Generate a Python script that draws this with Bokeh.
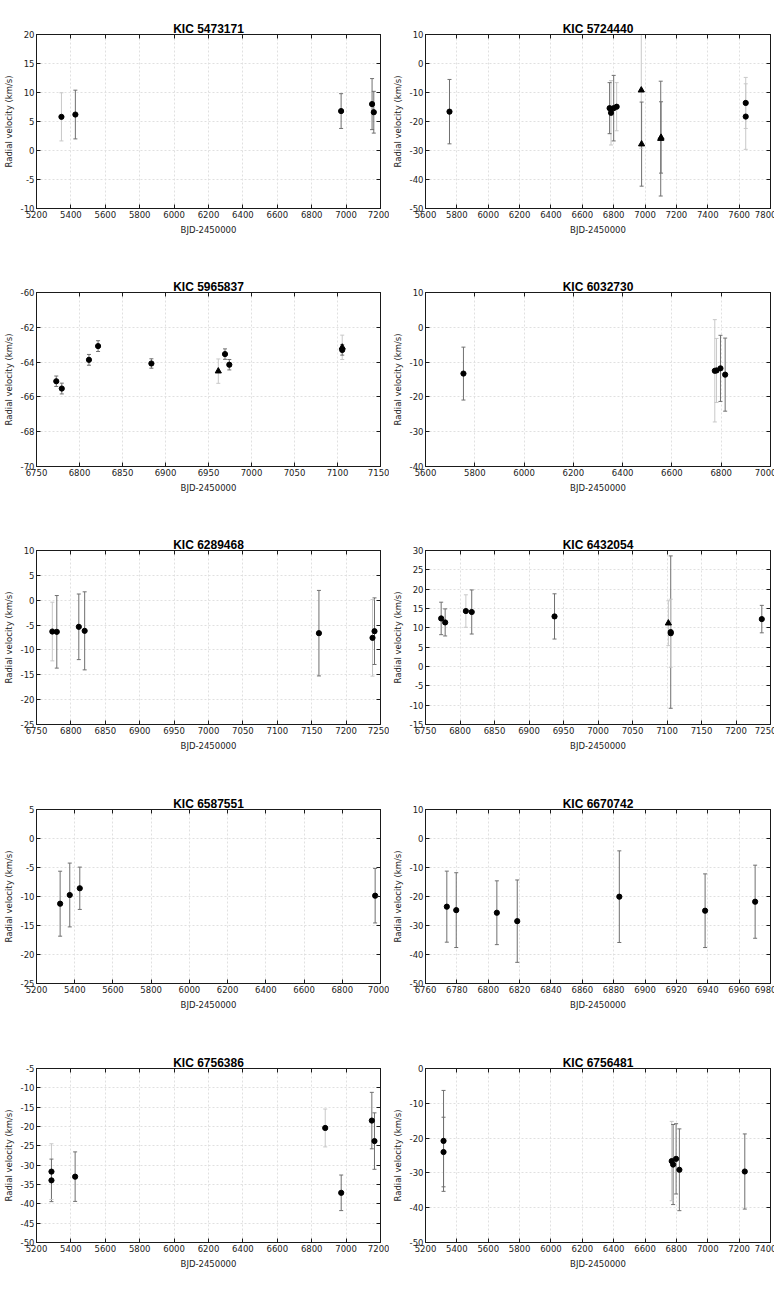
import numpy as np
from bokeh.plotting import figure
from bokeh.layouts import gridplot
from bokeh.models import (ColumnDataSource, Range1d, SingleIntervalTicker,
                          LinearAxis, CustomJSTickFormatter)
from bokeh.embed import file_html
from bokeh.resources import INLINE

# ---------------- data ----------------
names = ["KIC 5473171", "KIC 5724440", "KIC 5965837", "KIC 6032730", "KIC 6289468",
         "KIC 6432054", "KIC 6587551", "KIC 6670742", "KIC 6756386", "KIC 6756481"]

kic5473171_bjd = [5345, 5426, 6971, 7151, 7161]
kic5473171_rv = [5.8, 6.2, 6.8, 8.0, 6.6]
kic5473171_err = [4.15, 4.2, 3.0, 4.4, 3.6]
kic5473171_mark = ["o", "o", "o", "o", "o"]
kic5473171_set = ["L", "D", "D", "D", "D"]

kic5724440_bjd = [5753, 6774, 6783, 6800, 6819, 6976, 6978, 7100, 7102, 7642, 7642]
kic5724440_rv = [-16.6, -15.4, -17.0, -15.4, -14.9, -9.2, -27.8, -25.9, -25.5, -13.6, -18.3]
kic5724440_err = [11.1, 8.8, 11.1, 11.3, 8.3, 20.0, 14.5, 19.8, 12.3, 8.8, 11.3]
kic5724440_mark = ["o", "o", "o", "o", "o", "^", "^", "^", "^", "o", "o"]
kic5724440_set = ["D", "D", "L", "D", "L", "L", "D", "D", "D", "L", "L"]

kic5965837_bjd = [6773, 6779.4, 6811, 6821.6, 6883.6, 6961.4, 6969.2, 6974.2, 7105.5, 7105.5]
kic5965837_rv = [-65.1, -65.52, -63.87, -63.08, -64.08, -64.52, -63.54, -64.15, -63.15, -63.3]
kic5965837_err = [0.3, 0.31, 0.31, 0.31, 0.27, 0.7, 0.3, 0.3, 0.7, 0.3]
kic5965837_mark = ["o", "o", "o", "o", "o", "^", "o", "o", "^", "o"]
kic5965837_set = ["D", "D", "D", "D", "D", "L", "D", "D", "L", "D"]

kic6032730_bjd = [5754, 6774, 6781, 6797, 6816]
kic6032730_rv = [-13.3, -12.5, -12.4, -11.8, -13.6]
kic6032730_err = [7.6, 14.7, 9.2, 9.5, 10.5]
kic6032730_mark = ["o", "o", "o", "o", "o"]
kic6032730_set = ["D", "L", "L", "D", "D"]

kic6289468_bjd = [6773, 6779.5, 6811.5, 6820, 7160.5, 7238.4, 7241.3]
kic6289468_rv = [-6.3, -6.36, -5.35, -6.16, -6.63, -7.57, -6.23]
kic6289468_err = [5.9, 7.3, 6.6, 7.85, 8.6, 7.7, 6.7]
kic6289468_mark = ["o", "o", "o", "o", "o", "o", "o"]
kic6289468_set = ["L", "D", "D", "D", "D", "L", "D"]

kic6432054_bjd = [6772.7, 6778.5, 6808.5, 6817, 6937, 7102, 7105.4, 7105.4, 7237.4]
kic6432054_rv = [12.43, 11.4, 14.34, 14.1, 12.95, 11.2, 8.9, 8.6, 12.26]
kic6432054_err = [4.2, 3.5, 4.2, 5.7, 5.85, 5.8, 19.7, 8.8, 3.55]
kic6432054_mark = ["o", "o", "o", "o", "o", "^", "o", "o", "o"]
kic6432054_set = ["D", "D", "L", "D", "D", "L", "D", "L", "D"]

kic6587551_bjd = [5323.7, 5374, 5426.5, 6972]
kic6587551_rv = [-11.24, -9.74, -8.58, -9.86]
kic6587551_err = [5.6, 5.5, 3.65, 4.7]
kic6587551_mark = ["o", "o", "o", "o"]
kic6587551_set = ["D", "D", "D", "D"]

kic6670742_bjd = [6773.6, 6779.6, 6805.5, 6818.5, 6883.6, 6938.3, 6970.2]
kic6670742_rv = [-23.5, -24.7, -25.6, -28.5, -20.06, -24.9, -21.8]
kic6670742_err = [12.25, 12.9, 11.0, 14.2, 15.8, 12.7, 12.6]
kic6670742_mark = ["o", "o", "o", "o", "o", "o", "o"]
kic6670742_set = ["D", "D", "D", "D", "D", "D", "D"]

kic6756386_bjd = [5287, 5287, 5424.6, 6878.6, 6971.5, 7149.6, 7165]
kic6756386_rv = [-31.67, -33.93, -32.97, -20.38, -37.15, -18.47, -23.77]
kic6756386_err = [7.2, 5.5, 6.4, 4.9, 4.6, 7.3, 7.3]
kic6756386_mark = ["o", "o", "o", "o", "o", "o", "o"]
kic6756386_set = ["L", "D", "D", "L", "D", "D", "D"]

kic6756481_bjd = [5315, 5315, 6770, 6779, 6798, 6819, 7236]
kic6756481_rv = [-20.8, -24.0, -26.6, -27.6, -25.96, -29.1, -29.6]
kic6756481_err = [14.5, 10.0, 11.4, 11.5, 10.1, 11.75, 10.8]
kic6756481_mark = ["o", "o", "o", "o", "o", "o", "o"]
kic6756481_set = ["D", "D", "L", "D", "D", "D", "D"]

x_limits = [(5200, 7200), (5600, 7800), (6750, 7150), (5600, 7000), (6750, 7250),
            (6750, 7250), (5200, 7000), (6760, 6980), (5200, 7200), (5200, 7400)]
x_steps = [200, 200, 50, 200, 50, 50, 200, 20, 200, 200]
y_limits = [(-10, 20), (-50, 10), (-70, -60), (-40, 10), (-25, 10),
            (-15, 30), (-25, 5), (-50, 10), (-50, -5), (-50, 0)]
y_steps = [5, 10, 2, 10, 5, 5, 5, 10, 5, 10]

x_label = "BJD-2450000"
y_label = "Radial velocity (km/s)"

stars = [
    (kic5473171_bjd, kic5473171_rv, kic5473171_err, kic5473171_mark, kic5473171_set),
    (kic5724440_bjd, kic5724440_rv, kic5724440_err, kic5724440_mark, kic5724440_set),
    (kic5965837_bjd, kic5965837_rv, kic5965837_err, kic5965837_mark, kic5965837_set),
    (kic6032730_bjd, kic6032730_rv, kic6032730_err, kic6032730_mark, kic6032730_set),
    (kic6289468_bjd, kic6289468_rv, kic6289468_err, kic6289468_mark, kic6289468_set),
    (kic6432054_bjd, kic6432054_rv, kic6432054_err, kic6432054_mark, kic6432054_set),
    (kic6587551_bjd, kic6587551_rv, kic6587551_err, kic6587551_mark, kic6587551_set),
    (kic6670742_bjd, kic6670742_rv, kic6670742_err, kic6670742_mark, kic6670742_set),
    (kic6756386_bjd, kic6756386_rv, kic6756386_err, kic6756386_mark, kic6756386_set),
    (kic6756481_bjd, kic6756481_rv, kic6756481_err, kic6756481_mark, kic6756481_set),
]

# ---------------- styling ----------------
SET_COLOR = {"L": "#c8c8c8", "D": "#707070"}
MARKER = {"o": "circle", "^": "triangle"}
MARKER_SIZE = {"o": 5.2, "^": 6.2}
FONT = "DejaVu Sans"
ROW_HEIGHTS = [258, 258, 259, 259, 248]


def style_axis(ax, label_standoff=3, hidden=False):
    ax.major_tick_in = 4
    ax.major_tick_out = 0
    ax.minor_tick_in = 0
    ax.minor_tick_out = 0
    ax.minor_tick_line_color = None
    ax.axis_line_color = "#1a1a1a"
    ax.major_tick_line_color = "#1a1a1a"
    if hidden:
        ax.formatter = CustomJSTickFormatter(code="return ''")
        ax.major_label_text_font_size = "0px"
        ax.major_label_standoff = 0
        ax.axis_label = None
    else:
        ax.formatter = CustomJSTickFormatter(code="return tick.toFixed(0)")
        ax.major_label_text_font = FONT
        ax.major_label_text_font_size = "8.5px"
        ax.major_label_text_color = "#222222"
        ax.major_label_standoff = 2
        ax.axis_label_text_font = FONT
        ax.axis_label_text_font_size = "8.5px"
        ax.axis_label_text_font_style = "normal"
        ax.axis_label_text_color = "#222222"
        ax.axis_label_standoff = label_standoff


def make_panel(i):
    t, rv, err, mark, sets = stars[i]
    col = i % 2
    row = i // 2
    t = np.asarray(t, float)
    rv = np.asarray(rv, float)
    err = np.asarray(err, float)
    p = figure(
        frame_width=344 if col == 0 else 345, frame_height=174,
        x_range=Range1d(*x_limits[i]), y_range=Range1d(*y_limits[i]),
        output_backend="svg", toolbar_location=None, tools="",
        min_border_left=34,
        min_border_right=9 if col == 0 else 6,
        min_border_top=34, min_border_bottom=ROW_HEIGHTS[row] - 34 - 174,
        title=names[i], background_fill_color="white",
        border_fill_color="white",
    )
    p.title.align = "center"
    p.title.text_font = "Liberation Sans"
    p.title.text_font_style = "bold"
    p.title.text_font_size = "12px"
    p.title.text_color = "black"
    p.title.standoff = -2
    p.outline_line_color = "#1a1a1a"

    xt = SingleIntervalTicker(interval=x_steps[i], num_minor_ticks=0)
    yt = SingleIntervalTicker(interval=y_steps[i], num_minor_ticks=0)
    p.xaxis.ticker = xt
    p.yaxis.ticker = yt
    p.xaxis.axis_label = x_label
    p.yaxis.axis_label = y_label
    style_axis(p.xaxis[0], label_standoff=4)
    style_axis(p.yaxis[0], label_standoff=4)
    top = LinearAxis(ticker=xt)
    right = LinearAxis(ticker=yt)
    style_axis(top, hidden=True)
    style_axis(right, hidden=True)
    p.add_layout(top, "above")
    p.add_layout(right, "right")

    p.xgrid.ticker = xt
    p.ygrid.ticker = yt
    for g in (p.xgrid[0], p.ygrid[0]):
        g.grid_line_color = "#e0e0e0"
        g.grid_line_dash = "2 2"
        g.grid_line_width = 1

    src = ColumnDataSource(dict(
        x=t, y=rv, lo=rv - err, hi=rv + err,
        ecol=[SET_COLOR[s] for s in sets],
        marker=[MARKER[m] for m in mark],
        msize=[MARKER_SIZE[m] for m in mark],
    ))
    p.segment(x0="x", y0="lo", x1="x", y1="hi", line_color="ecol", line_width=1, source=src)
    p.scatter(x="x", y="lo", marker="dash", size=4, line_color="ecol", line_width=1, source=src)
    p.scatter(x="x", y="hi", marker="dash", size=4, line_color="ecol", line_width=1, source=src)
    p.scatter(x="x", y="y", marker="marker", size="msize", fill_color="black",
              line_color="black", source=src)
    return p


panels = [make_panel(i) for i in range(10)]
grid = gridplot([[panels[r * 2], panels[r * 2 + 1]] for r in range(5)],
                toolbar_location=None)

open("out.html", "w").write(file_html(grid, INLINE))
